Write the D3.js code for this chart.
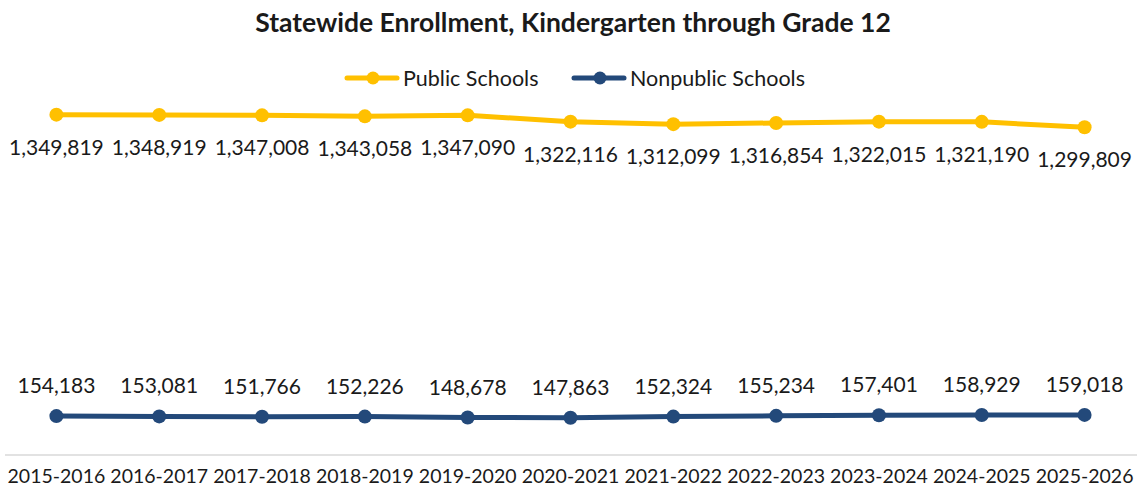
<!DOCTYPE html>
<html>
<head>
<meta charset="utf-8">
<script src="https://cdn.jsdelivr.net/npm/d3@7"></script>
<style>
  body { margin: 0; background: #fff; }
  text { font-family: Lato, "Open Sans", sans-serif; fill: #1a1a1a; }
</style>
</head>
<body>
<div id="chart-area"></div>
<script>
// dane
const years = ["2015-2016", "2016-2017", "2017-2018", "2018-2019", "2019-2020", "2020-2021",
    "2021-2022", "2022-2023", "2023-2024", "2024-2025", "2025-2026"];
const publicSchools = [1349819, 1348919, 1347008, 1343058, 1347090, 1322116,
    1312099, 1316854, 1322015, 1321190, 1299809];
const nonpublicSchools = [154183, 153081, 151766, 152226, 148678, 147863,
    152324, 155234, 157401, 158929, 159018];

const width = 1138, height = 488;
const fmt = d3.format(",");

let svg = d3.select("#chart-area").append("svg")
    .attr("width", width)
    .attr("height", height);

let x = d3.scaleBand()
    .domain(years)
    .range([5, 1136]);

let y = d3.scaleLinear()
    .domain([0, 1400000])
    .range([455, 102]);

// tytul
svg.append("text")
    .attr("x", 573)
    .attr("y", 32)
    .attr("text-anchor", "middle")
    .style("font-size", "26.5px")
    .style("font-weight", "bold")
    .text("Statewide Enrollment, Kindergarten through Grade 12");

// os x - tylko linia i etykiety
svg.append("line")
    .attr("x1", 5).attr("x2", 1137)
    .attr("y1", 455).attr("y2", 455)
    .attr("stroke", "#d9d9d9")
    .attr("stroke-width", 1.5);

let xAxis = svg.append("g")
    .attr("transform", "translate(0,455)")
    .call(d3.axisBottom(x).tickSize(0).tickPadding(14));
xAxis.select(".domain").remove();
xAxis.selectAll("text")
    .style("font-size", "19.5px")
    .style("font-family", "Lato, sans-serif")
    .attr("fill", "#1a1a1a");

const series = [
    { name: "Public Schools", values: publicSchools, color: "#FFC000", labelDy: 40 },
    { name: "Nonpublic Schools", values: nonpublicSchools, color: "#23497A", labelDy: -23 }
];

let line = d3.line()
    .x((d, i) => x(years[i]) + x.bandwidth() / 2)
    .y(d => y(d));

series.forEach(s => {
    svg.append("path")
        .datum(s.values)
        .attr("d", line)
        .attr("fill", "none")
        .attr("stroke", s.color)
        .attr("stroke-width", 5)
        .attr("stroke-linejoin", "round");

    svg.selectAll(null)
        .data(s.values)
        .enter()
        .append("circle")
        .attr("cx", (d, i) => x(years[i]) + x.bandwidth() / 2)
        .attr("cy", d => y(d))
        .attr("r", 7)
        .attr("fill", s.color);

    svg.selectAll(null)
        .data(s.values)
        .enter()
        .append("text")
        .attr("x", (d, i) => x(years[i]) + x.bandwidth() / 2)
        .attr("y", d => y(d) + s.labelDy)
        .attr("text-anchor", "middle")
        .style("font-size", "21px")
        .text(d => fmt(d));
});

// legenda
const legendItems = [
    { name: "Public Schools", color: "#FFC000", x: 345 },
    { name: "Nonpublic Schools", color: "#23497A", x: 572 }
];
let legend = svg.selectAll(".legend")
    .data(legendItems)
    .enter()
    .append("g")
    .attr("transform", d => `translate(${d.x},78)`);
legend.append("line")
    .attr("x1", 2).attr("x2", 52)
    .attr("stroke", d => d.color)
    .attr("stroke-width", 5)
    .attr("stroke-linecap", "round");
legend.append("circle")
    .attr("cx", 28)
    .attr("r", 6.5)
    .attr("fill", d => d.color);
legend.append("text")
    .attr("x", 58)
    .attr("y", 7.5)
    .style("font-size", "21.5px")
    .text(d => d.name);
</script>
</body>
</html>
